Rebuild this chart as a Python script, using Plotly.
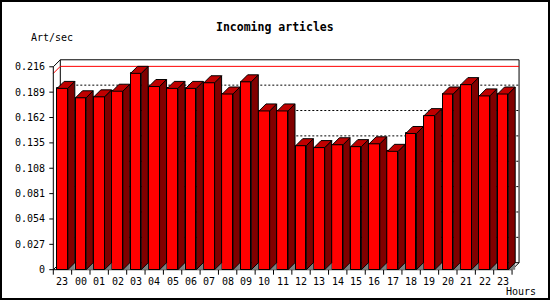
import plotly.graph_objects as go

# ---------------- data ----------------
hours = ["23", "00", "01", "02", "03", "04", "05", "06", "07", "08", "09", "10",
         "11", "12", "13", "14", "15", "16", "17", "18", "19", "20", "21", "22", "23"]
values = [0.193, 0.183, 0.184, 0.190, 0.209, 0.195, 0.193, 0.193, 0.199, 0.187,
          0.200, 0.169, 0.169, 0.132, 0.130, 0.133, 0.131, 0.134, 0.126, 0.145,
          0.164, 0.187, 0.197, 0.185, 0.187]
y_tick_vals = [0, 0.027, 0.054, 0.081, 0.108, 0.135, 0.162, 0.189, 0.216]
y_tick_text = ["0", "0.027", "0.054", "0.081", "0.108", "0.135", "0.162", "0.189", "0.216"]
title_text = "Incoming articles"
y_title = "Art/sec"
x_title = "Hours"

# ---------------- geometry ----------------
FIG_W, FIG_H = 550, 300
L_PX, R_PX, T_PX, B_PX = 40, 528, 54, 280
PW, PH = R_PX - L_PX, B_PX - T_PX
X0_PX = 53.3      # pixel of front x = -0.5
SLOT_PX = 18.35   # pixels per category
Y0_PX = 269.7     # pixel of front y = 0
PPU = 939.4       # pixels per unit of value

x_range = [-0.5 + (L_PX - X0_PX) / SLOT_PX, -0.5 + (R_PX - X0_PX) / SLOT_PX]
y_range = [(Y0_PX - B_PX) / PPU, (Y0_PX - T_PX) / PPU]

OX = 7 / SLOT_PX
OY = 7 / PPU
BAR_W = 0.58
N = len(values)
X_LEFT, X_RIGHT = -0.5, N - 0.5
Y_TOP = y_tick_vals[-1]


def px_x(p):
    return (p - L_PX) / PW


def px_y(p):
    return (B_PX - p) / PH


def path(pts):
    return "M " + " L ".join(f"{x},{y}" for x, y in pts) + " Z"


FONT = "DejaVu Sans Mono"
shapes = []


def line(x0, y0, x1, y1, color="black", dash=None, layer="below", width=1):
    ln = dict(color=color, width=width)
    if dash:
        ln["dash"] = dash
    shapes.append(dict(type="line", xref="x", yref="y", x0=x0, y0=y0, x1=x1, y1=y1,
                       line=ln, layer=layer))


# back wall
shapes.append(dict(type="rect", xref="x", yref="y",
                   x0=X_LEFT + OX, x1=X_RIGHT + OX, y0=OY, y1=Y_TOP + OY,
                   line=dict(color="black", width=1), fillcolor="white", layer="below"))
# dotted grid lines on back wall
for v in y_tick_vals[1:-1]:
    line(X_LEFT + OX, v + OY, X_RIGHT + OX, v + OY, dash="2px,2px")
# max line (red) on left wall and back wall
vmax = max(values)
line(X_LEFT, vmax, X_LEFT + OX, vmax + OY, color="red")
line(X_LEFT + OX, vmax + OY, X_RIGHT + OX, vmax + OY, color="red")
# left wall / floor edges
line(X_LEFT, 0, X_LEFT, Y_TOP)
line(X_LEFT, Y_TOP, X_LEFT + OX, Y_TOP + OY)
line(X_LEFT, 0, X_LEFT + OX, OY)
line(X_RIGHT, 0, X_RIGHT + OX, OY, layer="above")
line(X_LEFT, 0, X_RIGHT, 0, layer="above")

# y tick marks
for v in y_tick_vals:
    line(X_LEFT - 4 / SLOT_PX, v, X_LEFT, v, layer="above")
# x tick marks
for k in range(N + 1):
    line(X_LEFT + k, 0, X_LEFT + k, -5 / PPU, layer="above")

# 3D faces of bars
for i, v in enumerate(values):
    xl = i - BAR_W / 2
    xr = i + BAR_W / 2
    # floor shadow
    shapes.append(dict(type="path", xref="x", yref="y",
                       path=path([(xr, 0), (xr + OX, 0), (xr + OX, OY)]),
                       fillcolor="#808080", line=dict(width=0), layer="above"))
    # side face
    shapes.append(dict(type="path", xref="x", yref="y",
                       path=path([(xr, 0), (xr, v), (xr + OX, v + OY), (xr + OX, OY)]),
                       fillcolor="#800000", line=dict(color="black", width=1), layer="above"))
    # top face
    shapes.append(dict(type="path", xref="x", yref="y",
                       path=path([(xl, v), (xr, v), (xr + OX, v + OY), (xl + OX, v + OY)]),
                       fillcolor="#C00000", line=dict(color="black", width=1), layer="above"))

# outer border
shapes.append(dict(type="rect", xref="paper", yref="paper",
                   x0=px_x(1), x1=px_x(549), y0=px_y(299), y1=px_y(1),
                   line=dict(color="black", width=2), fillcolor="rgba(0,0,0,0)", layer="above"))

annotations = []
for v, t in zip(y_tick_vals, y_tick_text):
    annotations.append(dict(x=X_LEFT, y=v, xref="x", yref="y", text=t, showarrow=False,
                            xanchor="right", yanchor="middle", xshift=-6,
                            font=dict(family=FONT, size=10, color="black")))
for i, h in enumerate(hours):
    annotations.append(dict(x=i, y=0, xref="x", yref="y", text=h, showarrow=False,
                            xanchor="center", yanchor="middle", yshift=-11.5,
                            font=dict(family=FONT, size=10, color="black")))
annotations.append(dict(x=px_x(274.5), y=px_y(27), xref="paper", yref="paper",
                        text="<b>" + title_text + "</b>", showarrow=False,
                        xanchor="center", yanchor="middle",
                        font=dict(family=FONT, size=11.5, color="black")))
annotations.append(dict(x=px_x(29), y=px_y(37), xref="paper", yref="paper",
                        text=y_title, showarrow=False, xanchor="left", yanchor="middle",
                        font=dict(family=FONT, size=10, color="black")))
annotations.append(dict(x=px_x(504), y=px_y(291.5), xref="paper", yref="paper",
                        text=x_title, showarrow=False, xanchor="left", yanchor="middle",
                        font=dict(family=FONT, size=10, color="black")))

fig = go.Figure(go.Bar(
    x=list(range(N)), y=values, width=BAR_W,
    marker=dict(color="#FF0000", line=dict(color="black", width=1)),
    hoverinfo="skip"))

fig.update_layout(
    width=FIG_W, height=FIG_H,
    margin=dict(l=L_PX, r=FIG_W - R_PX, t=T_PX, b=FIG_H - B_PX, pad=0),
    paper_bgcolor="white", plot_bgcolor="white",
    showlegend=False,
    xaxis=dict(range=x_range, visible=False, fixedrange=True),
    yaxis=dict(range=y_range, visible=False, fixedrange=True),
    shapes=shapes, annotations=annotations,
    bargap=0,
)

fig.write_html("out.html", config={"displayModeBar": False})
